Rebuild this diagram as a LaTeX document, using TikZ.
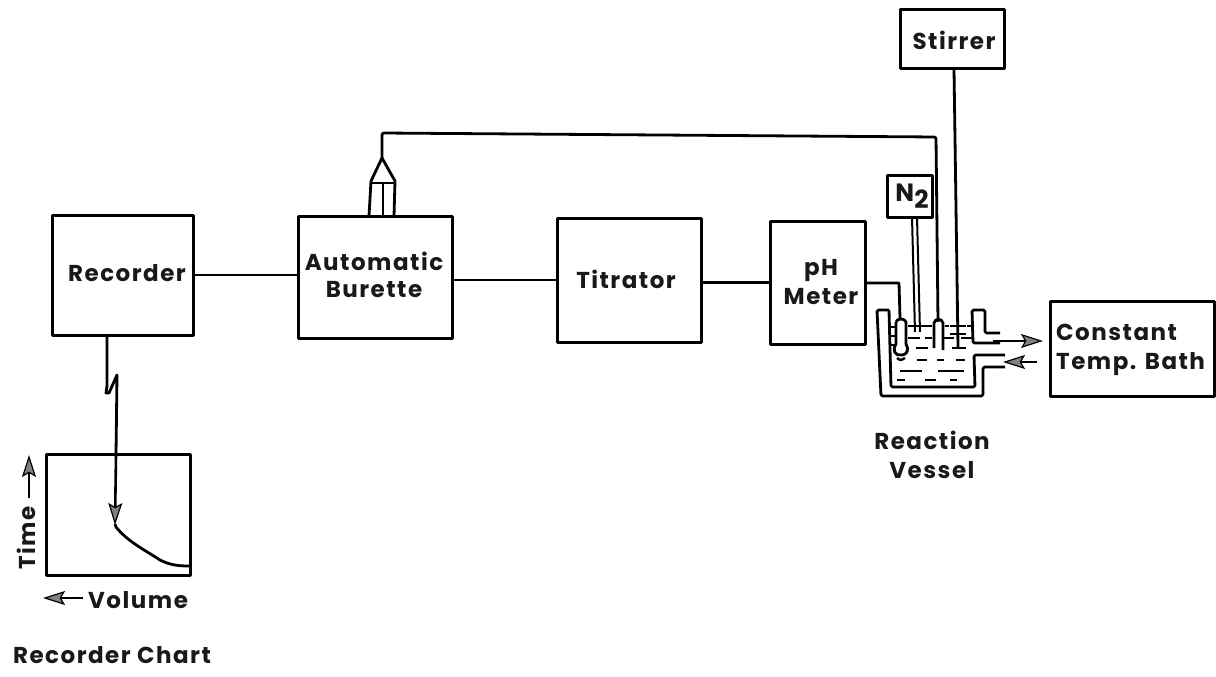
\documentclass[tikz,border=0pt]{standalone}
\usepackage{fontspec}
\setmainfont{Poppins}[LetterSpace=6.5]
\usetikzlibrary{arrows.meta}
\tikzset{
 every picture/.style={line join=round},
 blockbox/.style={draw=black,line width=3pt,fill=white,inner sep=0pt},
 lbl/.style={inner sep=0pt,font=\bfseries\fontsize{23}{29}\selectfont,align=center,text=black!90},
 wire/.style={draw=black,line width=2.8pt},
 thin wire/.style={draw=black,line width=2pt},
 flow/.style={draw=black,line width=2.6pt,-{Stealth[length=22pt,width=14pt,inset=4pt,line width=1.2pt,fill=black!50]}},
 liquid/.style={draw=black,line width=2.8pt},
}
\begin{document}
\begin{tikzpicture}[x=1pt,y=-1pt]
\useasboundingbox (0,0) rectangle (1216,677);
% blocks
\node[blockbox,minimum width=141pt,minimum height=120pt] (rec) at (122.5,275) {};
\node[blockbox,minimum width=154pt,minimum height=122pt] (bur) at (375,277) {};
\node[blockbox,minimum width=144pt,minimum height=124pt] (tit) at (629,280) {};
\node[blockbox,minimum width=95pt,minimum height=123pt] (ph) at (817.5,282.5) {};
\node[blockbox,minimum width=104pt,minimum height=59pt] (sti) at (952,39.5) {};
\node[blockbox,minimum width=45pt,minimum height=42pt] (n2) at (909.5,196) {};
\node[blockbox,minimum width=164pt,minimum height=95pt] (bath) at (1132,349) {};
\node[blockbox,minimum width=144pt,minimum height=121pt] (chart) at (118.5,514.5) {};
% block texts
\node[lbl] (rect) at (127,273) {Recorder};
\node[lbl] (burt) at (374,274.5) {Automatic\\[-2pt]Burette};
\node[lbl] (titt) at (626,279) {Titrator};
\node[lbl] (pht) at (821,282.5) {pH\\Meter};
\node[lbl] (stit) at (954,40) {Stirrer};
\node[inner sep=0pt,font=\bfseries\fontsize{25}{27}\selectfont,text=black!90] (n2t) at (912,196) {N\raisebox{-7pt}{2}};
\node[lbl,align=left,anchor=west] (batht) at (1056,350) {Constant\\Temp. Bath};
% named points
\coordinate (jt) at (382,133);
\coordinate (jd) at (936,137);
\coordinate (tip) at (382,158);
\coordinate (sl) at (371,181);
\coordinate (sr) at (395,181);
% main connectors
\draw[wire] (rec.east) -- (bur.west |- rec.east);
\draw[wire] (bur.east |- tit.west) -- (tit.west);
\draw[wire] (tit.east |- ph.west) -- (ph.west);
% burette head
\draw[wire] (369,216) -- (sl) -- (tip) -- (sr) -- (394,216);
\draw[wire] (370,183) -- (394,183);
\draw[wire] (383,184) -- (383,216);
\draw[wire,rounded corners=2pt] (tip) -- (jt) -- (jd) -- (938,322);
% stirrer shaft
\draw[wire] (954,69) -- (958,347);
\draw[wire] (950,326) -- (966,326);
\draw[wire] (950,334) -- (966,334);
% N2 tubes
\draw[thin wire] (912,217) -- (915,332);
\draw[thin wire] (917,217) -- (920,332);
% pH electrode lead
\draw[wire] (866,283) -- (899,283) -- (900,318);
% vessel
\draw[wire,rounded corners=1.5pt] (889,310) -- (877,310) -- (881,396) -- (983,396) -- (983,367) -- (1005,367);
\draw[wire,rounded corners=1.5pt] (1000,333) -- (985,333) -- (985,310) -- (972,310) -- (973,343) -- (1000,343);
\draw[wire,rounded corners=1.5pt] (889,310) -- (891,387) -- (975,387) -- (974,355) -- (1005,355);
% electrode and central well
\draw[wire] (896,322) -- (896,344) .. controls (892,350) and (895,356) .. (901,355) .. controls (908,355) and (909,349) .. (906,344) -- (906,322) .. controls (905,318) and (897,318) .. (896,322);
\draw[line width=2.4pt] (897,358) .. controls (900,361) and (903,360) .. (905,358);
\draw[wire] (934,348) -- (934,323) .. controls (935,318) and (942,318) .. (943,323) -- (943,350);
% liquid surface and marks
\foreach \xa/\xb/\yy in {891/895/327,891/895/336,891/895/345,908/932/326,945/949/326,967/973/326,
 908/920/338,925/932/338,944/954/338,961/972/338,916/928/348,952/966/348,917/927/360,937/944/360,956/965/360,
 900/922/371,938/964/371,897/905/380,925/936/380,950/957/380}{\draw[liquid] (\xa,\yy) -- (\xb,\yy);}
% bath flow
\coordinate (ao) at (1043,341);
\coordinate (bo) at (1003,362);
\draw[flow] (993,341) -- (ao);
\draw[flow] (1037,362) -- (bo);
% pen lead
\draw[wire] (107,336) -- (107,386) -- (106,393) -- (109,393) -- (117,375) -- (116,455);
\draw[flow] (116,455) -- (115,525);
\draw[wire] (115,524) -- (116,527) .. controls (128,542) and (145,550) .. (160,560) .. controls (170,565) and (178,566) .. (189,566);
% chart annotations
\node[lbl,rotate=90] (time) at (26,538) {Time};
\coordinate (t0) at (29,498);
\coordinate (t1) at (29,455);
\draw[flow] (t0) -- (t1);
\node[lbl,anchor=west] (vol) at (88,600) {Volume};
\coordinate (v0) at (83,598);
\coordinate (v1) at (43,598);
\draw[flow] (v0) -- (v1);
\node[lbl] (rc) at (112,655) {Recorder Chart};
\node[lbl] (rv) at (932,455) {Reaction\\Vessel};
\end{tikzpicture}
\end{document}
